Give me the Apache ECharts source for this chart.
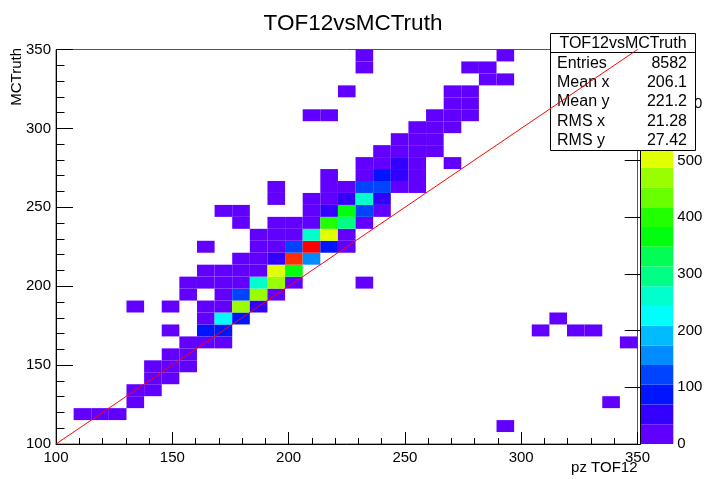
<!DOCTYPE html>
<html>
<head>
<meta charset="utf-8">
<script src="https://cdn.jsdelivr.net/npm/echarts@6/dist/echarts.min.js"></script>
<style>
html, body { margin: 0; padding: 0; background: #fff; }
#chart { width: 706px; height: 479px; }
</style>
</head>
<body>
<div id="chart"></div>
<script>
// binning of the TH2 (33 x 33 bins)
var xRange = [100, 350];
var yRange = [100, 350];
var nBinsX = 33;
var nBinsY = 33;
var zMax = 696;

// ROOT pretty palette, 20 contour levels
var palette = ['#6200ff', '#3300ff', '#0014ff', '#0044ff', '#008bff', '#00bbff', '#00fffb',
	'#00ffcc', '#00ff85', '#00ff55', '#00ff0e', '#22ff00', '#69ff00', '#99ff00', '#e0ff00',
	'#ffee00', '#ffa700', '#ff7700', '#ff3000', '#ff0000'];

// filled bins: [binX, binY, content]
var cells = [
	[25, 1, 1],
	[1, 2, 2], [2, 2, 3], [3, 2, 2],
	[4, 3, 4], [31, 3, 1],
	[4, 4, 6], [5, 4, 5],
	[5, 5, 8], [6, 5, 7],
	[5, 6, 4], [6, 6, 12], [7, 6, 6],
	[6, 7, 9], [7, 7, 15],
	[7, 8, 18], [8, 8, 22], [9, 8, 10], [32, 8, 1],
	[6, 9, 2], [8, 9, 85], [9, 9, 92], [27, 9, 1], [29, 9, 1], [30, 9, 1],
	[8, 10, 20], [9, 10, 228], [10, 10, 80], [28, 10, 1],
	[4, 11, 1], [6, 11, 2], [8, 11, 12], [9, 11, 30], [10, 11, 468], [11, 11, 55],
	[7, 12, 3], [9, 12, 14], [10, 12, 118], [11, 12, 475], [12, 12, 25],
	[7, 13, 4], [8, 13, 8], [9, 13, 16], [10, 13, 28], [11, 13, 262], [12, 13, 470], [13, 13, 30], [17, 13, 1],
	[8, 14, 3], [9, 14, 6], [10, 14, 12], [11, 14, 30], [12, 14, 505], [13, 14, 365],
	[10, 15, 8], [11, 15, 24], [12, 15, 60], [13, 15, 645], [14, 15, 158],
	[8, 16, 1], [11, 16, 10], [12, 16, 28], [13, 16, 125], [14, 16, 696], [15, 16, 88], [16, 16, 22],
	[11, 17, 5], [12, 17, 14], [13, 17, 30], [14, 17, 258], [15, 17, 508], [16, 17, 26],
	[10, 18, 3], [12, 18, 4], [13, 18, 12], [14, 18, 28], [15, 18, 398], [16, 18, 292], [17, 18, 22],
	[9, 19, 2], [10, 19, 3], [14, 19, 16], [15, 19, 48], [16, 19, 370], [17, 19, 122], [18, 19, 20],
	[12, 20, 2], [14, 20, 10], [15, 20, 25], [16, 20, 58], [17, 20, 265], [18, 20, 45],
	[12, 21, 2], [15, 21, 12], [16, 21, 30], [17, 21, 130], [18, 21, 112], [19, 21, 28], [20, 21, 10],
	[15, 22, 3], [17, 22, 24], [18, 22, 78], [19, 22, 50], [20, 22, 18],
	[17, 23, 8], [18, 23, 20], [19, 23, 42], [20, 23, 14], [22, 23, 2],
	[18, 24, 6], [19, 24, 15], [20, 24, 18], [21, 24, 8],
	[19, 25, 8], [20, 25, 14], [21, 25, 10],
	[20, 26, 6], [21, 26, 12], [22, 26, 7],
	[14, 27, 1], [15, 27, 1], [21, 27, 4], [22, 27, 9], [23, 27, 5],
	[22, 28, 6], [23, 28, 7],
	[16, 29, 1], [22, 29, 4], [23, 29, 5],
	[24, 30, 3], [25, 30, 2],
	[17, 31, 1], [23, 31, 2], [24, 31, 2],
	[17, 32, 1], [25, 32, 1]
];

// diagonal y = x
var diagonal = [[100, 100], [350, 350]];

var statNames = ['Entries', 'Mean x', 'Mean y', 'RMS x', 'RMS y'];
var statValues = ['8582', '206.1', '221.2', '21.28', '27.42'];

var FONT = 'Liberation Sans, Arial, Helvetica, sans-serif';

var dx = (xRange[1] - xRange[0]) / nBinsX;
var dy = (yRange[1] - yRange[0]) / nBinsY;

// [xlo, ylo, content, xhi, yhi]
var binData = cells.map(function (c) {
	var xlo = xRange[0] + c[0] * dx;
	var ylo = yRange[0] + c[1] * dy;
	return [xlo, ylo, c[2], xlo + dx, ylo + dy];
});

// palette bands: [0, lo, mid, hi]
var pieces = [];
var bandData = [];
for (var k = 0; k < palette.length; k++) {
	var lo = k * zMax / palette.length;
	var hi = (k + 1) * zMax / palette.length;
	var p = { gte: lo, color: palette[k] };
	if (k == palette.length - 1) p.lte = hi; else p.lt = hi;
	pieces.push(p);
	bandData.push([0, lo, (lo + hi) / 2, hi]);
}

function boxItem(x0, y0, x1, y1, xFix) {
	return function (params, api) {
		var a = api.coord([xFix ? 0 : api.value(x0), api.value(y0)]);
		var b = api.coord([xFix ? 1 : api.value(x1), api.value(y1)]);
		return {
			type: 'rect',
			shape: { x: a[0], y: b[1], width: b[0] - a[0], height: a[1] - b[1] },
			style: { fill: api.visual('color') }
		};
	};
}

var statsGraphic = [
	{ type: 'rect', z: 50, shape: { x: 550.5, y: 33.5, width: 145, height: 117 },
		style: { fill: '#fff', stroke: '#000', lineWidth: 1 } },
	{ type: 'line', z: 51, shape: { x1: 550.5, y1: 52.5, x2: 695.5, y2: 52.5 },
		style: { stroke: '#000', lineWidth: 1 } },
	{ type: 'text', z: 51, x: 623, y: 43.5,
		style: { text: 'TOF12vsMCTruth', fontSize: 16, fontFamily: FONT, fill: '#000', align: 'center', verticalAlign: 'middle' } },
	// axis titles
	{ type: 'text', z: 51, x: 17, y: 48, rotation: Math.PI / 2,
		style: { text: 'MCTruth', fontSize: 15, fontFamily: FONT, fill: '#000', align: 'right', verticalAlign: 'middle' } },
	{ type: 'text', z: 51, x: 637.5, y: 467.5,
		style: { text: 'pz TOF12', fontSize: 15, fontFamily: FONT, fill: '#000', align: 'right', verticalAlign: 'middle' } }
];
for (var s = 0; s < statNames.length; s++) {
	var yy = 63.5 + s * 19.2;
	statsGraphic.push({ type: 'text', z: 51, x: 557, y: yy,
		style: { text: statNames[s], fontSize: 16, fontFamily: FONT, fill: '#000', align: 'left', verticalAlign: 'middle' } });
	statsGraphic.push({ type: 'text', z: 51, x: 687, y: yy,
		style: { text: statValues[s], fontSize: 16, fontFamily: FONT, fill: '#000', align: 'right', verticalAlign: 'middle' } });
}

var chartOption = {
	animation: false,
	backgroundColor: '#fff',
	title: {
		text: 'TOF12vsMCTruth',
		left: 'center',
		top: 7,
		textStyle: { fontSize: 22.5, fontWeight: 'normal', color: '#000', fontFamily: FONT }
	},
	grid: [
		{ left: 56, right: 68.5, top: 49.5, bottom: 35, outerBoundsMode: 'none', containLabel: false,
			show: true, borderColor: '#555', borderWidth: 1, backgroundColor: 'transparent' },
		{ left: 640.7, right: 32.7, top: 49.5, bottom: 35, outerBoundsMode: 'none', containLabel: false }
	],
	visualMap: {
		type: 'piecewise',
		show: false,
		dimension: 2,
		seriesIndex: [0, 1],
		pieces: pieces
	},
	xAxis: [
		{
			type: 'value', gridIndex: 0,
			min: xRange[0], max: xRange[1], interval: 50,
			axisLine: { lineStyle: { color: '#000', width: 1 } },
			axisTick: { inside: true, length: 12, lineStyle: { color: '#000' } },
			minorTick: { show: true, splitNumber: 5, length: 6, lineStyle: { color: '#000' } },
			axisLabel: { fontSize: 15, fontFamily: FONT, color: '#000', margin: 6 },
			splitLine: { show: false }
		},
		{
			type: 'value', gridIndex: 1, min: 0, max: 1, show: false
		}
	],
	yAxis: [
		{
			type: 'value', gridIndex: 0,
			min: yRange[0], max: yRange[1], interval: 50,
			axisLine: { lineStyle: { color: '#000', width: 1 } },
			axisTick: { inside: true, length: 17, lineStyle: { color: '#000' } },
			minorTick: { show: true, splitNumber: 5, length: 8.5, lineStyle: { color: '#000' } },
			axisLabel: { fontSize: 15, fontFamily: FONT, color: '#000', margin: 5 },
			splitLine: { show: false }
		},
		{
			type: 'value', gridIndex: 1, position: 'right', z: 5,
			min: 0, max: zMax, interval: 100,
			axisLine: { show: true, lineStyle: { color: '#000', width: 1 } },
			axisTick: { show: true, inside: true, length: 16, lineStyle: { color: '#000' } },
			axisLabel: { fontSize: 15, fontFamily: FONT, color: '#000', margin: 4, showMaxLabel: false, hideOverlap: false },
			splitLine: { show: false }
		}
	],
	graphic: statsGraphic,
	series: [
		{
			type: 'custom',
			xAxisIndex: 0, yAxisIndex: 0,
			z: 2,
			silent: true,
			renderItem: boxItem(0, 1, 3, 4, false),
			data: binData
		},
		{
			type: 'custom',
			xAxisIndex: 1, yAxisIndex: 1,
			z: 1,
			silent: true,
			encode: { x: 0, y: 1 },
			renderItem: boxItem(0, 1, 0, 3, true),
			data: bandData
		},
		{
			type: 'line',
			xAxisIndex: 0, yAxisIndex: 0,
			z: 100,
			silent: true,
			showSymbol: false,
			symbol: 'none',
			lineStyle: { color: '#ff0000', width: 1 },
			data: diagonal
		}
	]
};

var myChart = echarts.init(document.getElementById('chart'));
myChart.setOption(chartOption);
</script>
</body>
</html>
